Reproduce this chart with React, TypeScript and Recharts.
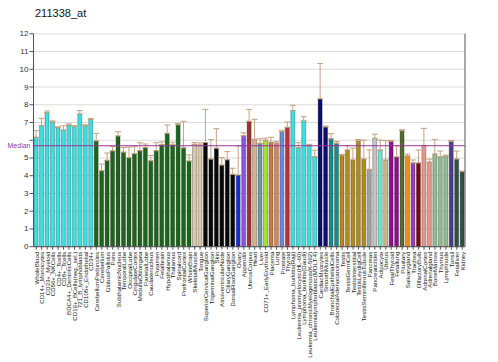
import { Bar, BarChart, CartesianGrid, Cell, ErrorBar, ReferenceLine, XAxis, YAxis } from "recharts";

const tissues = [
  "WholeBlood", "CD14+_Monocytes", "CD33+_Myeloid", "CD56+_NKCells", "CD4+_Tcells", "CD8+_Tcells",
  "BDCA4+_DentriticCells", "CD19+_BCells(neg._sel.)", "721_B_lymphoblasts", "CD105+_Endothelial", "CD34+",
  "CerebellumPeduncles", "Cerebellum", "GlobusPallidus", "Pons", "SubthalamicNucleus", "TemporalLobe",
  "OccipitalLobe", "CingulateCortex", "MedullaOblongata", "ParietalLobe", "Caudatenucleus", "Putamen",
  "Fetalbrain", "Hypothalamus", "Thalamus", "Spinalcord", "PrefrontalCortex", "WholeBrain",
  "SkeletalMuscle", "Tongue", "SuperiorCervicalGanglion", "TrigeminalGanglion", "Skin",
  "AtrioventricularNode", "CiliaryGanglion", "DorsalRootGanglion", "Ovary", "Appendix", "UterusCorpus",
  "Heart", "Liver", "CD71+_EarlyErythroid", "Placenta", "Lung", "Prostate", "Thyroid",
  "Lymphoma_burkitts(Raji)", "Leukemia_promyelocytic(HL-60)", "Lymphoma_burkitts(Daudi)",
  "Leukemia_chronicMyelogenous(K-562)", "Leukemialymphoblastic(MOLT-4)", "CardiacMyocytes", "SmoothMuscle",
  "BronchialEpithelialCells", "ColorectalAdenocarcinoma", "Testis", "TestisGermCell", "TestisInterstitial",
  "TestisLeydigCell", "TestisSeminiferousTubule", "Pancreas", "PancreaticIslet", "Adipocyte", "Uterus",
  "FetalThyroid", "Fetallung", "Pituitary", "Salivarygland", "Trachea", "OlfactoryBulb", "AdrenalCortex",
  "Adrenalgland", "BoneMarrow", "Thymus", "Lymphnode", "Tonsil", "Fetalliver", "Kidney",
];

const expression = [
  6.17, 6.82, 7.55, 7.03, 6.71, 6.58, 6.86, 6.77, 7.48, 6.82, 7.18,
  5.96, 4.28, 4.87, 5.4, 6.24, 5.33, 5.01, 5.24, 5.41, 5.59, 4.84, 5.41, 5.76, 6.39, 5.74, 6.87, 5.57, 4.83,
  5.77, 5.73,
  5.87, 4.94, 5.55, 4.6, 4.9, 4.08,
  4.04, 6.25, 7.07, 6.05, 5.83, 6.0, 5.89, 5.84, 6.48, 6.73,
  7.67, 5.58, 7.09, 5.69, 5.08,
  8.33, 6.75, 6.09, 5.83,
  5.15, 5.45, 4.89, 5.96, 4.94,
  4.36, 6.11, 5.45, 4.89, 5.94, 5.06, 6.54, 5.11, 4.72, 4.72, 5.71, 4.77, 5.22, 5.07, 5.11, 5.94, 4.94, 4.23,
];

const spread = [
  0.37, 0.42, 0.1, 0.06, 0.05, 0.24, 0.06, 0.05, 0.19, 0.05, 0.05,
  0.43, 0.38, 0.41, 0.25, 0.24, 0.26, 0.6, 0.42, 0.45, 0.2, 0.3, 0.45, 0.15, 0.47, 0.15, 0.08, 1.5, 0.34,
  0.1, 0.12,
  1.87, 1.1, 1.1, 0.42, 0.46, 0.34,
  1.64, 0.17, 0.67, 1.13, 0.25, 0.12, 0.28, 0.1, 0.08, 0.3,
  0.3, 0.28, 0.24, 0.08, 0.36,
  2.0, 0.05, 0.28, 0.1,
  0.05, 0.24, 0.67, 0.08, 1.07,
  1.09, 0.23, 0.56, 1.09, 0.05, 0.63, 0.05, 0.11, 0.17, 0.73, 0.96, 0.16, 0.83, 0.32, 0.05, 0.05, 0.45, 0.03,
];

const median = 5.69;
const yTicks = [0, 1, 2, 3, 4, 5, 6, 7, 8, 9, 10, 11, 12];

const cyan = "#3be0e0";
const green = "#1d651d";
const barColors = [
  ...Array(11).fill(cyan),
  ...Array(18).fill(green),
  "#dcc6a8", "#dcc6a8",
  ...Array(6).fill("#080808"),
  "#1a2fd0", "#8a55dd", "#993535", "#d2b48c", "#7495a6", "#a6de3a", "#c97a44", "#d8845c", "#6a8bd0", "#b8323c",
  ...Array(5).fill(cyan),
  "#0c0c72", "#0c0c72", "#1a8a8a", "#1a8a8a",
  ...Array(5).fill("#b48a1e"),
  "#a0a0a0", "#c4c4c4", "#70e4c8", "#c8b888", "#8b108b", "#8b108b", "#556b2f", "#f08c1a", "#9442b4",
  "#7a0a0a", "#e2988a", "#e2988a", "#90bc90", "#90bc90", "#90bc90", "#4a3e8c", "#2f4f48", "#2f4f48",
];

const data = tissues.map((tissue, i) => ({
  tissue,
  value: expression[i],
  err: [0, spread[i]],
}));

const font = "Liberation Sans, Arial, sans-serif";

const TissueTick = (props: any) => {
  const { x, y, payload } = props;
  return (
    <text
      x={x}
      y={y}
      transform={`rotate(-90 ${x} ${y})`}
      textAnchor="end"
      dominantBaseline="central"
      fontSize={6.1}
      fontFamily={font}
      fill="#222"
    >
      {payload.value}
    </text>
  );
};

// the median label sits where the left "6" would be, so that tick is left out
const LeftTick = (props: any) => {
  const { x, y, payload } = props;
  if (payload.value === 6) return null;
  return (
    <text x={x} y={y} textAnchor="end" dominantBaseline="central" fontSize={8} fontFamily={font} fill="#333">
      {payload.value}
    </text>
  );
};

const MedianLabel = (props: any) => {
  const { viewBox } = props;
  return (
    <text x={viewBox.x - 3} y={viewBox.y} textAnchor="end" dominantBaseline="central" fontSize={7} fontFamily={font} fill="#993399">
      Median
    </text>
  );
};

export default function App() {
  return (
    <div style={{ width: 498, height: 362, background: "#fff", fontFamily: font }}>
      <style>{`body{margin:0}`}</style>
      <div style={{ position: "relative" }}>
        <div style={{ position: "absolute", left: 35, top: 7, fontSize: 11, color: "#111" }}>211338_at</div>
        <BarChart
          width={498}
          height={362}
          data={data}
          margin={{ top: 33.8, right: 0, bottom: 0, left: 0 }}
          barCategoryGap={0.6}
        >
          <CartesianGrid yAxisId="left" vertical={false} stroke="#dadada" />
          <XAxis
            dataKey="tissue"
            interval={0}
            height={115.3}
            tick={<TissueTick />}
            tickSize={3}
            tickMargin={2}
            stroke="#555"
          />
          <YAxis
            yAxisId="left"
            width={33.5}
            domain={[0, 12]}
            ticks={yTicks}
            tickSize={4}
            tickMargin={1}
            stroke="#555"
            tick={<LeftTick />}
            interval={0}
          />
          <YAxis
            yAxisId="right"
            orientation="right"
            width={33}
            domain={[0, 12]}
            ticks={yTicks}
            tickSize={4}
            tickMargin={1}
            stroke="#555"
            tick={{ fontSize: 8, fill: "#333", fontFamily: font, textAnchor: "start" }}
            interval={0}
          />
          <Bar yAxisId="left" dataKey="value" isAnimationActive={false}>
            {data.map((d, i) => (
              <Cell key={d.tissue} fill={barColors[i]} stroke="rgba(0,0,0,0.45)" strokeWidth={0.6} />
            ))}
            <ErrorBar dataKey="err" width={3} stroke="#c4a27e" strokeWidth={1} isAnimationActive={false} />
          </Bar>
          <ReferenceLine yAxisId="left" y={median} stroke="#993399" strokeWidth={1} label={<MedianLabel />} />
        </BarChart>
      </div>
    </div>
  );
}
